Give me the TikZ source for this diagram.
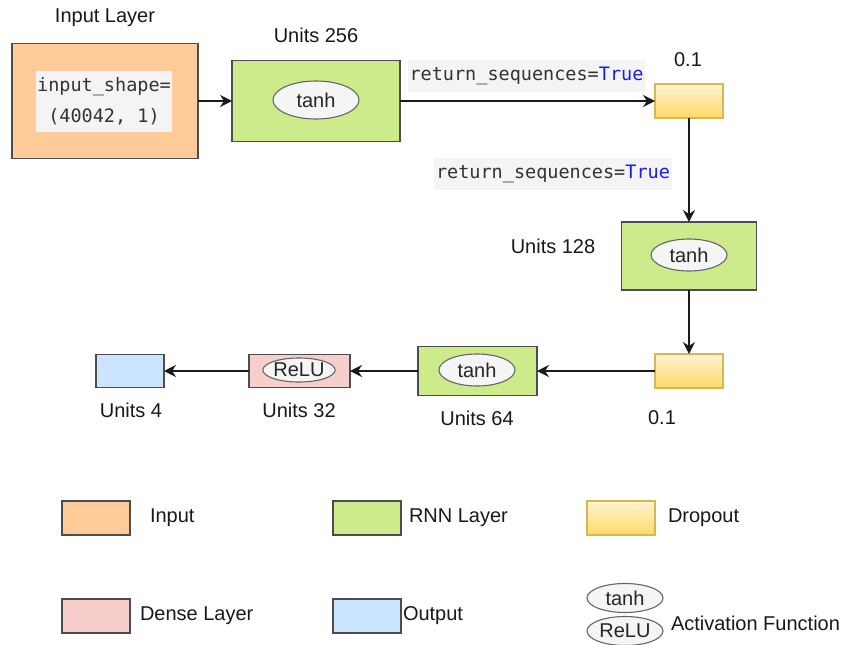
\documentclass[tikz,border=0pt]{standalone}
\usepackage{fontspec}
\setmainfont{Liberation Sans}
\setmonofont{DejaVu Sans Mono}
\usetikzlibrary{arrows.meta,shapes.geometric}

\definecolor{inputfill}{HTML}{FFCC99}
\definecolor{rnnfill}{HTML}{CDEB8B}
\definecolor{droptop}{HTML}{FFF4D2}
\definecolor{dropbot}{HTML}{FFD966}
\definecolor{dropline}{HTML}{D6B656}
\definecolor{densefill}{HTML}{F8CECC}
\definecolor{outfill}{HTML}{CCE5FF}
\definecolor{actfill}{HTML}{F5F5F5}
\definecolor{actline}{HTML}{666666}
\definecolor{boxline}{HTML}{4D4D4D}
\definecolor{codebg}{HTML}{F4F4F4}
\definecolor{codetext}{HTML}{333333}
\definecolor{kwblue}{HTML}{1A1AFF}
\definecolor{wire}{HTML}{1A1A1A}

\newcommand{\kw}[1]{\textcolor{kwblue}{#1}}

\begin{document}
\begin{tikzpicture}[x=1pt,y=-1pt,
  font=\fontsize{20pt}{24pt}\selectfont,
  every node/.style={inner sep=0pt, outer sep=0pt},
  layer/.style={rectangle, draw=boxline, line width=1.2pt},
  inputbox/.style={layer, fill=inputfill},
  rnnbox/.style={layer, fill=rnnfill},
  densebox/.style={layer, fill=densefill},
  outbox/.style={layer, fill=outfill},
  dropbox/.style={rectangle, draw=dropline, line width=1.2pt, top color=droptop, bottom color=dropbot},
  act/.style={ellipse, draw=actline, line width=1.1pt, fill=actfill, text=black!85},
  code/.style={fill=codebg, text=codetext, font=\ttfamily\fontsize{18.5pt}{31pt}\selectfont, align=center},
  caption/.style={text=black!90},
  flow/.style={draw=wire, line width=1.6pt, -{Stealth[length=12pt,width=12pt,inset=4pt]}},
]
\useasboundingbox[fill=white] (0,0) rectangle (844,645);

% ---- main chain ----
\node[inputbox, minimum width=186pt, minimum height=115pt] (inp) at (105,101) {};
\node[code, minimum width=136pt, minimum height=61pt] (inpcode) at (104,101.5) {input\_shape=\\(40042, 1)};
\node[caption] (inplab) at (105,18) {Input Layer};

\node[rnnbox, minimum width=168pt, minimum height=81pt] (r256) at (316,101) {};
\node[act, minimum width=86pt, minimum height=38pt] (a256) at (316,100) {tanh};
\node[caption] (r256lab) at (316,35) {Units 256};

\node[dropbox, minimum width=68pt, minimum height=34pt] (d1) at (689,101) {};
\node[caption] (d1lab) at (688,60) {0.1};

\node[rnnbox, minimum width=135pt, minimum height=68pt] (r128) at (689,256) {};
\node[act, minimum width=76pt, minimum height=32pt] (a128) at (689,255) {tanh};
\node[caption] (r128lab) at (553,246) {Units 128};

\node[dropbox, minimum width=68pt, minimum height=34pt] (d2) at (689,371) {};
\node[caption] (d2lab) at (662,418) {0.1};

\node[rnnbox, minimum width=119pt, minimum height=49pt] (r64) at (477.5,371) {};
\node[act, minimum width=76pt, minimum height=32pt] (a64) at (477,370) {tanh};
\node[caption] (r64lab) at (477,418) {Units 64};

\node[densebox, minimum width=101pt, minimum height=33pt] (dense) at (299.5,371) {};
\node[act, minimum width=72pt, minimum height=24pt] (arelu) at (299,370) {ReLU};
\node[caption] (denselab) at (299,410) {Units 32};

\node[outbox, minimum width=68pt, minimum height=33pt] (out) at (130,371) {};
\node[caption] (outlab) at (131,410) {Units 4};

% ---- connectors ----
\draw[flow] (inp.east) -- (r256.west);
\draw[flow] (r256.east) -- (d1.west);
\draw[flow] (d1.south) -- (r128.north);
\draw[flow] (r128.south) -- (d2.north);
\draw[flow] (d2.west) -- (r64.east);
\draw[flow] (r64.west) -- (dense.east);
\draw[flow] (dense.west) -- (out.east);

% connector annotations
\node[code, minimum width=237pt, minimum height=32pt] (seq1) at (526.5,76) {return\_sequences=\kw{True}};
\node[code, minimum width=238pt, minimum height=32pt] (seq2) at (553,174) {return\_sequences=\kw{True}};

% ---- legend ----
\node[inputbox, minimum width=68pt, minimum height=34pt] (kinp) at (96,518) {};
\node[caption, anchor=west] (kinplab) at (150,518) {Input};
\node[rnnbox, minimum width=68pt, minimum height=34pt] (krnn) at (367,518) {};
\node[caption, anchor=west] (krnnlab) at (409,518) {RNN Layer};
\node[dropbox, minimum width=68pt, minimum height=34pt] (kdrop) at (621,518) {};
\node[caption, anchor=west] (kdroplab) at (668,518) {Dropout};

\node[densebox, minimum width=68pt, minimum height=34pt] (kdense) at (96,616) {};
\node[caption, anchor=west] (kdenselab) at (140,616) {Dense Layer};
\node[outbox, minimum width=68pt, minimum height=34pt] (kout) at (367,616) {};
\node[caption, anchor=west] (koutlab) at (403,616) {Output};

\node[act, minimum width=76pt, minimum height=29pt] (ktanh) at (625,598) {tanh};
\node[act, minimum width=76pt, minimum height=29pt] (krelu) at (625,631) {ReLU};
\node[caption, anchor=west] (kactlab) at (671,623) {Activation Function};
\end{tikzpicture}
\end{document}
